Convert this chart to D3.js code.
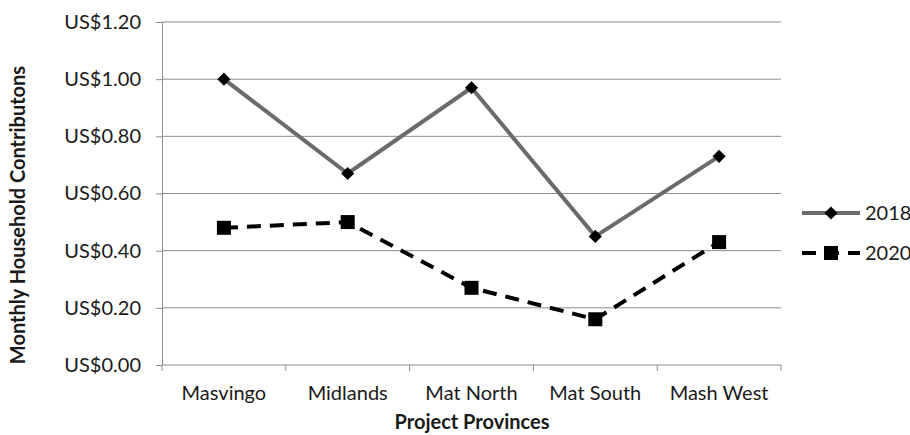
<!DOCTYPE html>
<html>
<head>
<meta charset="utf-8">
<script src="https://cdn.jsdelivr.net/npm/d3@7"></script>
<style>
  html, body { margin: 0; padding: 0; background: #fff; }
  svg text { font-family: Lato, "Open Sans", sans-serif; fill: #1a1a1a; }
</style>
</head>
<body>
<svg id="chart" width="910" height="435"></svg>
<script>
const provinces = ["Masvingo", "Midlands", "Mat North", "Mat South", "Mash West"];
const values2018 = [1.00, 0.67, 0.97, 0.45, 0.73];
const values2020 = [0.48, 0.50, 0.27, 0.16, 0.43];
const yTicks = [0, 0.2, 0.4, 0.6, 0.8, 1.0, 1.2];

const svg = d3.select("#chart");
const plotLeft = 162, plotRight = 781, plotTop = 22, plotBottom = 365;
const fontSize = 20;

const x = d3.scaleBand().domain(provinces).range([plotLeft, plotRight]);
const y = d3.scaleLinear().domain([0, 1.2]).range([plotBottom, plotTop]);
const cx = d => x(d) + x.bandwidth() / 2;

// horizontal gridlines
svg.append("g").selectAll("line").data(yTicks.slice(1)).join("line")
  .attr("x1", plotLeft).attr("x2", plotRight)
  .attr("y1", d => y(d)).attr("y2", d => y(d))
  .attr("stroke", "#8c8c8c").attr("stroke-width", 1);

// y axis
const yAxis = svg.append("g").attr("transform", `translate(${plotLeft},0)`)
  .call(d3.axisLeft(y).tickValues(yTicks).tickSize(6).tickPadding(15)
    .tickFormat(d => "US$" + d.toFixed(2)));
yAxis.select(".domain").attr("stroke", "#8c8c8c");
yAxis.selectAll(".tick line").attr("stroke", "#8c8c8c");
yAxis.selectAll("text").attr("font-size", fontSize).attr("fill", "#1a1a1a")
  .attr("font-family", "Lato, 'Open Sans', sans-serif");

// x axis with ticks on band boundaries
const xAxis = svg.append("g").attr("transform", `translate(0,${plotBottom})`);
xAxis.append("line").attr("x1", plotLeft).attr("x2", plotRight)
  .attr("stroke", "#8c8c8c");
const bounds = provinces.map(p => x(p)).concat([plotRight]);
xAxis.selectAll("line.tk").data(bounds).join("line").attr("class", "tk")
  .attr("x1", d => d).attr("x2", d => d).attr("y1", 0).attr("y2", 6)
  .attr("stroke", "#8c8c8c");
xAxis.selectAll("text").data(provinces).join("text")
  .attr("x", d => cx(d)).attr("y", 35).attr("text-anchor", "middle")
  .attr("font-size", fontSize).text(d => d);

// axis titles
svg.append("text").attr("x", 472).attr("y", 429).attr("text-anchor", "middle")
  .attr("font-size", fontSize).attr("font-weight", "bold").text("Project Provinces");
svg.append("text").attr("transform", "translate(25,215) rotate(-90)")
  .attr("text-anchor", "middle").attr("font-size", fontSize).attr("font-weight", "bold")
  .text("Monthly Household Contributons");

const line = d3.line().x((d, i) => cx(provinces[i])).y(d => y(d));

// 2018 series
svg.append("path").datum(values2018).attr("d", line)
  .attr("fill", "none").attr("stroke", "#6b6b6b").attr("stroke-width", 4);
const diamond = d3.symbol().type(d3.symbolDiamond2).size(110);
svg.append("g").selectAll("path").data(values2018).join("path")
  .attr("d", diamond)
  .attr("transform", (d, i) => `translate(${cx(provinces[i])},${y(d)})`)
  .attr("fill", "#000");

// 2020 series
svg.append("path").datum(values2020).attr("d", line)
  .attr("fill", "none").attr("stroke", "#000").attr("stroke-width", 4)
  .attr("stroke-dasharray", "14,9");
svg.append("g").selectAll("rect").data(values2020).join("rect")
  .attr("x", (d, i) => cx(provinces[i]) - 7).attr("y", d => y(d) - 7)
  .attr("width", 14).attr("height", 14).attr("fill", "#000");

// legend
const lg = svg.append("g");
lg.append("line").attr("x1", 802).attr("x2", 860).attr("y1", 213).attr("y2", 213)
  .attr("stroke", "#6b6b6b").attr("stroke-width", 4);
lg.append("path").attr("d", diamond).attr("transform", "translate(831,213)").attr("fill", "#000");
lg.append("text").attr("x", 865).attr("y", 213).attr("dy", "0.35em")
  .attr("font-size", fontSize).text("2018");
lg.append("line").attr("x1", 802).attr("x2", 860).attr("y1", 253).attr("y2", 253)
  .attr("stroke", "#000").attr("stroke-width", 4).attr("stroke-dasharray", "14,9");
lg.append("rect").attr("x", 824).attr("y", 246).attr("width", 14).attr("height", 14).attr("fill", "#000");
lg.append("text").attr("x", 865).attr("y", 253).attr("dy", "0.35em")
  .attr("font-size", fontSize).text("2020");
</script>
</body>
</html>
